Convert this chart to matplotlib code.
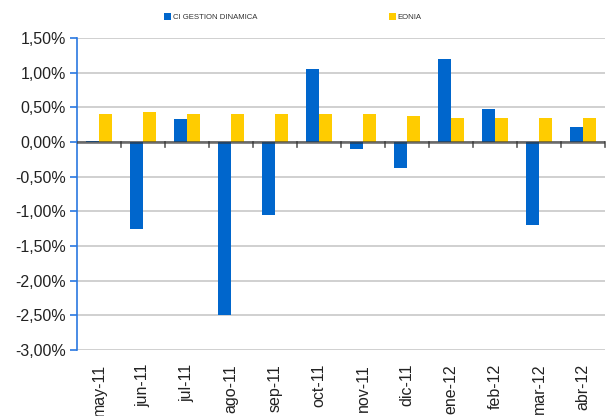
import matplotlib
matplotlib.use("Agg")
import matplotlib.pyplot as plt
import numpy as np
from matplotlib.ticker import FuncFormatter

plt.rcParams['font.family'] = ['Liberation Sans', 'DejaVu Sans']

categories = ["may-11", "jun-11", "jul-11", "ago-11", "sep-11", "oct-11",
              "nov-11", "dic-11", "ene-12", "feb-12", "mar-12", "abr-12"]
ci_gestion = [0.01, -1.25, 0.33, -2.50, -1.05, 1.05, -0.10, -0.38, 1.20, 0.47, -1.19, 0.21]
eonia = [0.41, 0.43, 0.41, 0.40, 0.41, 0.41, 0.40, 0.38, 0.35, 0.35, 0.35, 0.35]
yticks = [1.5, 1.0, 0.5, 0.0, -0.5, -1.0, -1.5, -2.0, -2.5, -3.0]

blue = "#0066cc"
yellow = "#ffcc00"

fig = plt.figure(figsize=(6.09, 4.16), dpi=100)
L, R, T, B = 77, 605, 38, 350
ax = fig.add_axes([L/609, 1-B/416, (R-L)/609, (B-T)/416])

x = np.arange(len(categories))
w = 0.295
ax.bar(x - w/2, ci_gestion, w, color=blue, label="CI GESTION DINAMICA", zorder=3)
ax.bar(x + w/2, eonia, w, color=yellow, label="EONIA", zorder=3)

ax.set_xlim(-0.5, len(categories) - 0.5)
ax.set_ylim(-3.0, 1.5)
ax.set_yticks(yticks)
ax.yaxis.set_major_formatter(FuncFormatter(lambda v, p: f"{v:.2f}%".replace(".", ",")))
ax.grid(axis='y', color="#c8c8c8", linewidth=1.2, zorder=0)
ax.set_axisbelow(True)

for s in ["top", "right", "bottom"]:
    ax.spines[s].set_visible(False)
ax.spines["left"].set_color("#2a78e0")
ax.spines["left"].set_linewidth(1.2)
ax.tick_params(axis='y', colors="#2a78e0", length=5, width=1.2, labelsize=11.5,
               labelcolor="#222222", pad=3)

# zero line with category boundary ticks
ax.axhline(0, color="#333333", alpha=0.65, linewidth=2, zorder=4)
for b in np.arange(0.5, len(categories), 1.0):
    ax.plot([b, b], [0, -0.075], color="#333333", alpha=0.8, linewidth=1.2, zorder=4, clip_on=False)

ax.set_xticks(x)
ax.set_xticklabels(categories, rotation=90, fontsize=11.5, color="#222222")
ax.tick_params(axis='x', length=0, pad=10)

# legend as two separate entries at top
fig.legend(handles=[ax.patches[0]], labels=["CI GESTION DINAMICA"], loc="center left",
           bbox_to_anchor=(161/609, 1-17/416), frameon=False, fontsize=5.6,
           handlelength=0.9, handleheight=0.9, handletextpad=0.2, borderaxespad=0,
           labelcolor="#333333")
fig.legend(handles=[ax.patches[len(categories)]], labels=["EONIA"], loc="center left",
           bbox_to_anchor=(386/609, 1-17/416), frameon=False, fontsize=5.6,
           handlelength=0.9, handleheight=0.9, handletextpad=0.2, borderaxespad=0,
           labelcolor="#333333")

fig.savefig("out.png", dpi=100)
